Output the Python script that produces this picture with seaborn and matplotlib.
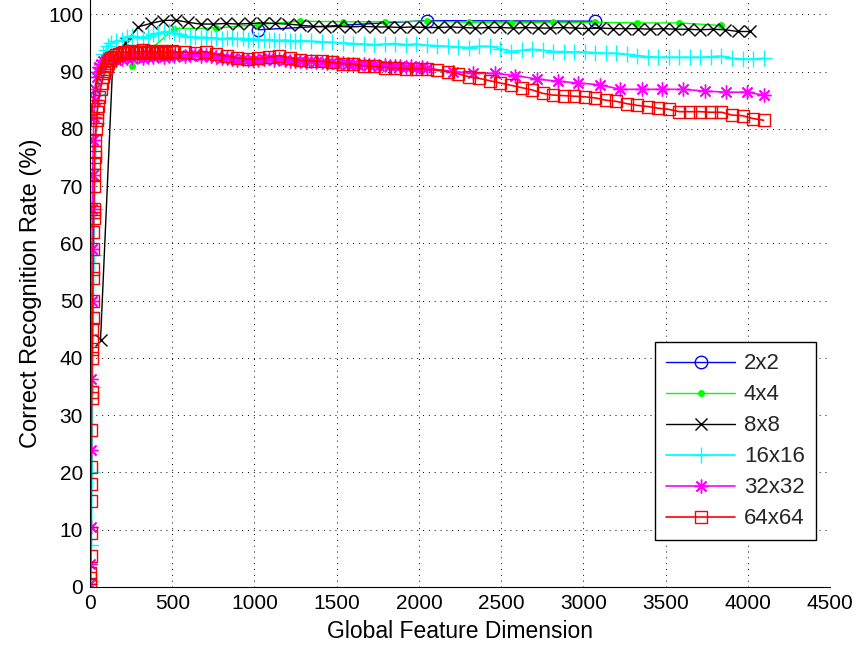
import matplotlib
matplotlib.use("Agg")
import matplotlib.pyplot as plt
import seaborn as sns

# ---------------- data ----------------
labels = ["2x2", "4x4", "8x8", "16x16", "32x32", "64x64"]

x_2x2 = [1024, 2048, 3072]
y_2x2 = [97.3, 98.9, 98.8]

x_4x4 = [256, 512, 768, 1024, 1280, 1536, 1792, 2048, 2304, 2560, 2816, 3072, 3328, 3584, 3840]
y_4x4 = [91.0, 97.5, 97.6, 98.2, 98.8, 98.7, 98.7, 98.8, 98.6, 98.5, 98.6, 98.6, 98.5, 98.5, 98.05]

x_8x8 = list(range(64, 4017, 76))
y_8x8 = [43.1, 92.5, 95.0, 97.8, 98.4, 98.9, 99.0, 98.6, 98.3, 98.3,
         98.4, 98.3, 98.4, 98.5, 98.4, 98.3, 98.1, 97.9, 97.8, 97.9,
         97.8, 97.9, 97.8, 97.8, 97.7, 97.8, 97.7, 97.7, 97.8, 97.7,
         97.6, 97.7, 97.7, 97.6, 97.7, 97.6, 97.6, 97.7, 97.6, 97.5,
         97.6, 97.5, 97.5, 97.5, 97.4, 97.5, 97.4, 97.4, 97.3, 97.4,
         97.3, 97.0, 97.0]

x_16x16 = ([4, 8, 12, 16, 20, 24, 28, 32, 40, 48, 56, 64, 80, 96, 112, 128]
           + list(range(160, 993, 32)) + list(range(1024, 1281, 32))
           + list(range(1344, 4097, 64)))
y_16x16 = ([1, 7.3, 20, 35, 48, 58, 66, 73, 81, 86, 89.5, 91.5, 93.0, 93.8, 94.5, 95.0]
           + [95.3, 95.5, 96.0, 96.3, 96.0, 95.8, 96.2, 96.5, 96.7, 96.9,
              97.0, 96.8, 96.5, 96.2, 96.0, 96.1, 95.9, 96.0, 95.8, 95.9,
              95.7, 95.8, 95.9, 95.7, 95.8, 95.6, 95.7]
           + [95.6, 95.5, 95.6, 95.5, 95.4, 95.5, 95.4, 95.3, 95.4]
           + [95.3, 95.2, 95.1, 95.0, 94.9, 94.8, 94.7, 94.8, 94.9, 94.7,
              94.8, 94.6, 94.5, 94.4, 94.3, 94.2, 94.4, 94.4, 94.0, 93.5,
              93.7, 93.9, 93.7, 93.5, 93.5, 93.4, 93.4, 93.3, 93.2, 93.2,
              93.0, 92.8, 92.6, 92.5, 92.5, 92.5, 92.5, 92.5, 92.6, 92.7,
              92.3, 92.2, 92.2, 92.3])

x_32x32 = ([1, 2, 4, 6, 8, 10, 12, 14, 16, 20, 24, 28, 32, 40, 48, 56, 64, 80, 96, 112, 128]
           + list(range(160, 2049, 32))
           + [2208, 2330, 2463, 2585, 2720, 2847, 2968, 3100, 3224, 3356, 3480, 3607,
              3741, 3868, 3994, 4096])
y_32x32 = ([0.5, 4, 10.5, 24, 36.4, 50, 59, 66, 72, 78, 82, 85, 87, 89, 90, 90.8, 91.3,
            91.8, 92.1, 92.3, 92.4]
           + [92.0, 92.2, 92.4, 92.3, 92.5, 92.4, 92.6, 92.5, 92.7, 92.6,
              92.8, 92.7, 92.9, 92.8, 92.9, 93.0, 92.8, 92.9, 92.7, 92.6,
              92.4, 92.3, 92.2, 92.1, 92.2, 92.0, 92.1, 92.0, 92.2, 92.3,
              92.1, 92.2, 92.0, 91.9, 91.8, 91.9, 91.7, 91.8, 91.6, 91.7,
              91.5, 91.6, 91.4, 91.5, 91.3, 91.4, 91.2, 91.3, 91.1, 91.2,
              91.0, 91.1, 90.9, 91.0, 90.9, 90.8, 90.9, 90.7, 90.8, 90.6]
           + [90.0, 89.7, 89.7, 89.3, 88.7, 88.3, 88.0, 87.7, 86.9, 86.9, 86.9, 86.9,
              86.6, 86.4, 86.4, 85.9])

x_64x64 = (list(range(1, 30))
           + [32, 36, 40, 44, 48, 56, 64, 72, 80, 88, 96, 104, 112, 120, 128]
           + list(range(144, 513, 16))
           + list(range(576, 4097, 64)))
y_64x64 = ([0.5, 1.5, 2.5, 5.5, 9.5, 15, 18, 21, 27.5, 33, 34, 40, 41.5, 43, 45, 47, 50,
            54, 55.5, 59, 62, 64.5, 65.5, 66, 70, 72, 74, 75, 76]
           + [78, 80, 81.5, 83, 84, 85.5, 87, 88, 89, 89.8, 90.5, 91, 91.5, 92, 92.3]
           + [92.6, 92.9, 93.1, 93.3, 93.4, 93.2, 93.5, 93.6, 93.3, 93.5, 93.4, 93.7,
              93.5, 93.3, 93.6, 93.4, 93.5, 93.2, 93.6, 93.4, 93.3, 93.5, 93.6, 93.4]
           + [93.4, 93.2, 93.5, 93.0, 92.7, 92.4, 92.2, 92.3, 92.5, 92.8,
              92.4, 92.0, 91.9, 91.8, 91.6, 91.4, 91.3, 91.0, 90.9, 90.7,
              90.6, 90.5, 90.5, 90.4, 90.2, 90.0, 89.6, 89.1, 88.8, 88.4,
              88.0, 87.6, 87.2, 86.8, 86.2, 85.9, 85.8, 85.7, 85.6, 85.4,
              85.0, 84.8, 84.4, 84.1, 83.9, 83.6, 83.4, 83.0, 83.0, 83.0,
              82.9, 82.9, 82.4, 82.3, 81.8, 81.5])

x_ticks = [0, 500, 1000, 1500, 2000, 2500, 3000, 3500, 4000, 4500]
y_ticks = [0, 10, 20, 30, 40, 50, 60, 70, 80, 90, 100]

# ---------------- style ----------------
sns.set_theme(style="white")
plt.rcParams['font.family'] = ['Liberation Sans', 'DejaVu Sans']

fig = plt.figure(figsize=(8.57, 6.48), dpi=100)
ax = fig.add_axes([90 / 857, 61 / 648, 740 / 857, 587 / 648])

styles = [
    dict(color=(0, 0, 1), marker='o', ms=9, mfc='none', lw=1.0),
    dict(color=(0, 1, 0), marker='.', ms=8, mfc=(0, 1, 0), lw=1.0),
    dict(color=(0, 0, 0), marker='x', ms=8, mfc='none', lw=1.0),
    dict(color=(0, 1, 1), marker='+', ms=11, mfc='none', lw=1.3),
    dict(color=(1, 0, 1), marker=(8, 2, 0), ms=10, mfc='none', lw=1.2),
    dict(color=(1, 0, 0), marker='s', ms=8, mfc='none', lw=1.2),
]
data = [(x_2x2, y_2x2), (x_4x4, y_4x4), (x_8x8, y_8x8),
        (x_16x16, y_16x16), (x_32x32, y_32x32), (x_64x64, y_64x64)]

for lab, (xs, ys), st in zip(labels, data, styles):
    sns.lineplot(x=xs, y=ys, ax=ax, sort=False, estimator=None,
                 color=st['color'], marker=st['marker'], markersize=st['ms'],
                 markerfacecolor=st['mfc'], markeredgecolor=st['color'],
                 markeredgewidth=1.0, linewidth=st['lw'], label=lab)

ax.set_xlim(0, 4500)
ax.set_ylim(0, 102.5)
ax.set_xticks(x_ticks)
ax.set_yticks(y_ticks)
ax.grid(True, color='black', linestyle=(0, (1, 5)), linewidth=0.7)
ax.set_axisbelow(True)
for s in ['top', 'right']:
    ax.spines[s].set_visible(False)
for s in ['left', 'bottom']:
    ax.spines[s].set_color('black')
    ax.spines[s].set_linewidth(0.8)
ax.tick_params(direction='in', length=5, width=0.7, colors='black',
               labelsize=15, pad=5)
ax.set_xlabel("Global Feature Dimension", fontsize=16.5, color='black', labelpad=5)
ax.set_ylabel("Correct Recognition Rate (%)", fontsize=17, color='black', labelpad=4)

leg = ax.legend(loc='upper right', bbox_to_anchor=(0.981, 0.417), borderaxespad=0,
                frameon=True, fancybox=False, edgecolor='black', framealpha=1,
                fontsize=16, handlelength=3.1, handletextpad=0.4, labelspacing=0.45,
                borderpad=0.5, numpoints=1)
leg.get_frame().set_linewidth(1.0)

fig.savefig("out.png", dpi=100)
